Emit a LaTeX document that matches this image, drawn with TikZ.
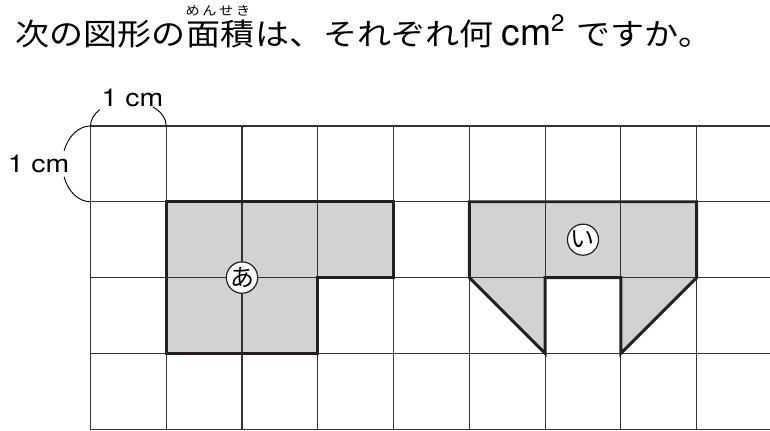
\documentclass[tikz,border=0pt]{standalone}
\usepackage{fontspec}
\newfontfamily\jpfont[FakeStretch=1.12]{Noto Sans CJK JP}
\newfontfamily\jpplain{Noto Sans CJK JP}
\newfontfamily\hvfont{TeX Gyre Heros}
\newfontfamily\hvwide[FakeStretch=1.15]{TeX Gyre Heros}
\definecolor{figgray}{RGB}{209,210,212}
\definecolor{ink}{RGB}{35,31,32}
\begin{document}
\begin{tikzpicture}[x=56.83pt,y=56.83pt,
    gridline/.style={line width=0.8pt,black!80},
    outline/.style={line width=2.2pt,ink},
    tag/.style={circle,draw=ink,line width=0.9pt,fill=white,minimum size=23.3pt,inner sep=0pt,font=\jpplain\fontsize{18}{19}\selectfont},
    unit/.style={inner sep=0pt,anchor=base,font=\hvwide\fontsize{18.5}{20}\selectfont},
    title/.style={inner sep=0pt,anchor=base west,font=\jpfont\fontsize{22.8}{27}\selectfont}]
\useasboundingbox (-1.194,1.663) rectangle (8.968,-4.025);
% title and ruby
\node[title] (t1) at (-0.99,1.056) {次の図形の};
\node[title] (t2) at (t1.base east) {面積};
\node[title] (t3) at (t2.base east) {は、それぞれ何\hspace{6pt}{\hvfont\fontsize{28}{30}\selectfont cm\raisebox{11pt}{\fontsize{18}{20}\selectfont 2}}\hspace{9pt}ですか。};
\node[anchor=base,inner sep=0pt,font=\jpfont\fontsize{9.5}{10}\selectfont] (ruby) at ([xshift=-2pt,yshift=22.9pt]t2.base) {\makebox[48.5pt][s]{め\hfill ん\hfill せ\hfill き}};
% shaded figures
\fill[figgray] (1,-1)--(4,-1)--(4,-2)--(3,-2)--(3,-3)--(1,-3)--cycle;
\fill[figgray] (5,-1)--(8,-1)--(8,-2)--(7,-3)--(7,-2)--(6,-2)--(6,-3)--(5,-2)--cycle;
% grid
\foreach \y in {0,...,4} \draw[gridline] (0,-\y)--(8.968,-\y);
\foreach \x in {0,...,8} \draw[gridline] (\x,0)--(\x,-4);
% outlines
\draw[outline] (1,-1)--(4,-1)--(4,-2)--(3,-2)--(3,-3)--(1,-3)--cycle;
\draw[outline] (5,-1)--(8,-1)--(8,-2)--(7,-3)--(7,-2)--(6,-2)--(6,-3)--(5,-2)--cycle;
\node[tag] (a) at (2,-2) {あ};
\node[tag] (i) at (6.5,-1.5) {い};
% 1 cm brackets
\draw[line width=0.7pt] (0,0) arc[start angle=180,end angle=139,x radius=0.5,y radius=0.33];
\draw[line width=0.7pt] (1,0) arc[start angle=0,end angle=50,x radius=0.5,y radius=0.33];
\draw[line width=0.7pt] (0,0) arc[start angle=90,end angle=160,x radius=0.37,y radius=0.5];
\draw[line width=0.7pt] (0,-1) arc[start angle=270,end angle=200,x radius=0.37,y radius=0.5];
\node[unit] (top) at (0.554,0.264) {1 cm};
\node[unit] (left) at (-0.686,-0.62) {1 cm};
\end{tikzpicture}
\end{document}
